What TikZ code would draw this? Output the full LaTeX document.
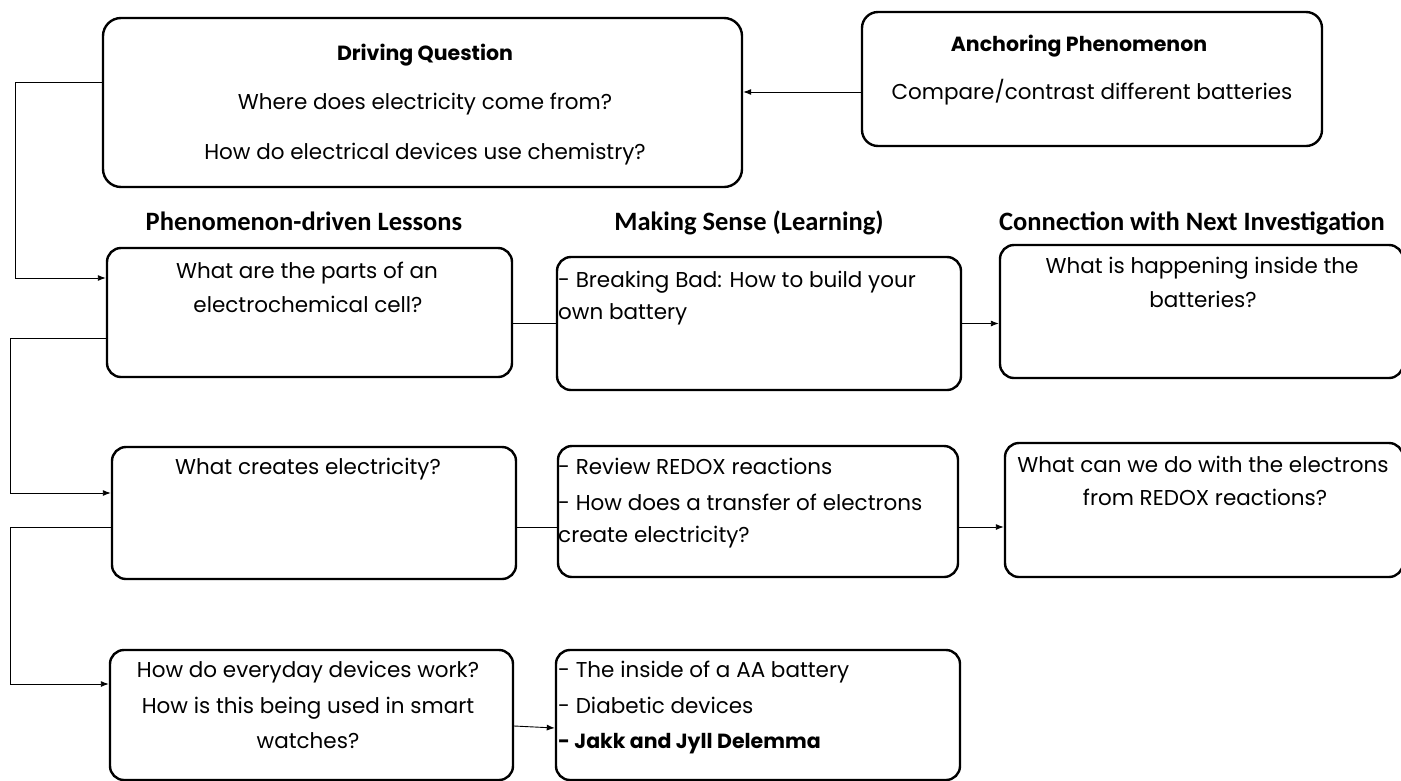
\documentclass[tikz,border=0pt]{standalone}
\usepackage{fontspec}
\setmainfont{Poppins}
\newfontfamily\hdfont{Carlito}
\usetikzlibrary{arrows.meta}
\begin{document}
\begin{tikzpicture}[x=1pt,y=-1pt,
  box/.style={draw, line width=2.4pt, rounded corners=14pt, inner sep=0pt},
  conn/.style={line width=0.9pt},
  arr/.style={conn, -{Latex[length=8pt,width=6pt]}},
  txt/.style={anchor=base, inner sep=0pt, font=\fontsize{21.5}{24}\selectfont},
  ltxt/.style={anchor=base west, inner sep=0pt, font=\fontsize{21.5}{24}\selectfont},
  btxt/.style={txt, font=\fontsize{20.5}{24}\selectfont\bfseries},
  hd/.style={anchor=base, inner sep=0pt, font=\hdfont\fontsize{26.5}{30}\selectfont\bfseries}]
\useasboundingbox (0,0) rectangle (1401,780);
% boxes
\node[box, rounded corners=18pt, minimum width=639pt, minimum height=169pt] (dq) at (422.5,102.5) {};
\node[box, rounded corners=16pt, minimum width=460pt, minimum height=134pt] (ap) at (1092,79) {};
\node[box, minimum width=405pt, minimum height=129pt] (l1) at (309.5,312.5) {};
\node[box, minimum width=404pt, minimum height=133pt] (m1) at (759,323.5) {};
\node[box, minimum width=403pt, minimum height=133pt] (r1) at (1201.5,311.5) {};
\node[box, minimum width=404pt, minimum height=132pt] (l2) at (314,513) {};
\node[box, minimum width=400pt, minimum height=131pt] (m2) at (758,511.5) {};
\node[box, minimum width=398pt, minimum height=134pt] (r2) at (1204,510) {};
\node[box, minimum width=403pt, minimum height=130pt] (l3) at (311.5,715) {};
\node[box, minimum width=404pt, minimum height=130pt] (m3) at (758,715) {};
% headers
\node[hd] (h1) at (304,230) {Phenomenon-driven Lessons};
\node[hd] (h2) at (749,230) {Making Sense (Learning)};
\node[hd] (h3) at (1192,230) {Connection with Next Investigation};
% texts
\node[btxt] (dqt) at (425,60) {Driving Question};
\node[txt] (dq1) at (425,109) {Where does electricity come from?};
\node[txt] (dq2) at (425,159) {How do electrical devices use chemistry?};
\node[btxt] (apt) at (1079,51) {Anchoring Phenomenon};
\node[txt] (ap1) at (1092,99) {Compare/contrast different batteries};
\node[txt] (l1a) at (307,278) {What are the parts of an};
\node[txt] (l1b) at (308,312) {electrochemical cell?};
\node[ltxt] (m1a) at (558,287) {- Breaking Bad: How to build your};
\node[ltxt] (m1b) at (558,319) {own battery};
\node[txt] (r1a) at (1202,273) {What is happening inside the};
\node[txt] (r1b) at (1203,307) {batteries?};
\node[txt] (l2a) at (308,474) {What creates electricity?};
\node[ltxt] (m2a) at (558,474) {- Review REDOX reactions};
\node[ltxt] (m2b) at (558,510) {- How does a transfer of electrons};
\node[ltxt] (m2c) at (558,542) {create electricity?};
\node[txt] (r2a) at (1203,472) {What can we do with the electrons};
\node[txt] (r2b) at (1205,505) {from REDOX reactions?};
\node[txt] (l3a) at (308,677) {How do everyday devices work?};
\node[txt] (l3b) at (308,713) {How is this being used in smart};
\node[txt] (l3c) at (308,748) {watches?};
\node[ltxt] (m3a) at (558,677) {- The inside of a AA battery};
\node[ltxt] (m3b) at (558,713) {- Diabetic devices};
\node[ltxt, font=\fontsize{20.5}{24}\selectfont\bfseries] (m3c) at (558,748) {- Jakk and Jyll Delemma};
% connectors
\draw[arr] ([yshift=-13pt]ap.west) -- ([yshift=-13pt]ap.west -| dq.east);
\coordinate (c1) at (15,82);
\coordinate (c2) at (10,338);
\coordinate (c3) at (10,527);
\draw[arr] ([yshift=20.5pt]dq.west) -- (c1) |- ([yshift=34.5pt]l1.west);
\draw[arr] ([yshift=-25.5pt]l1.west) -- (c2) |- ([yshift=20pt]l2.west);
\draw[arr] ([yshift=-14pt]l2.west) -- (c3) |- ([yshift=31pt]l3.west);
\draw[conn] ([yshift=-10.5pt]l1.east) -- ([yshift=-10.5pt]l1.east -| m1.west);
\draw[arr] (m1.east) -- (m1.east -| r1.west);
\draw[conn] ([yshift=-14pt]l2.east) -- ([yshift=-14pt]l2.east -| m2.west);
\draw[arr] ([yshift=-15.5pt]m2.east) -- ([yshift=-15.5pt]m2.east -| r2.west);
\draw[arr] ([yshift=-11pt]l3.east) -- ([yshift=-13pt]m3.west);
\end{tikzpicture}
\end{document}
